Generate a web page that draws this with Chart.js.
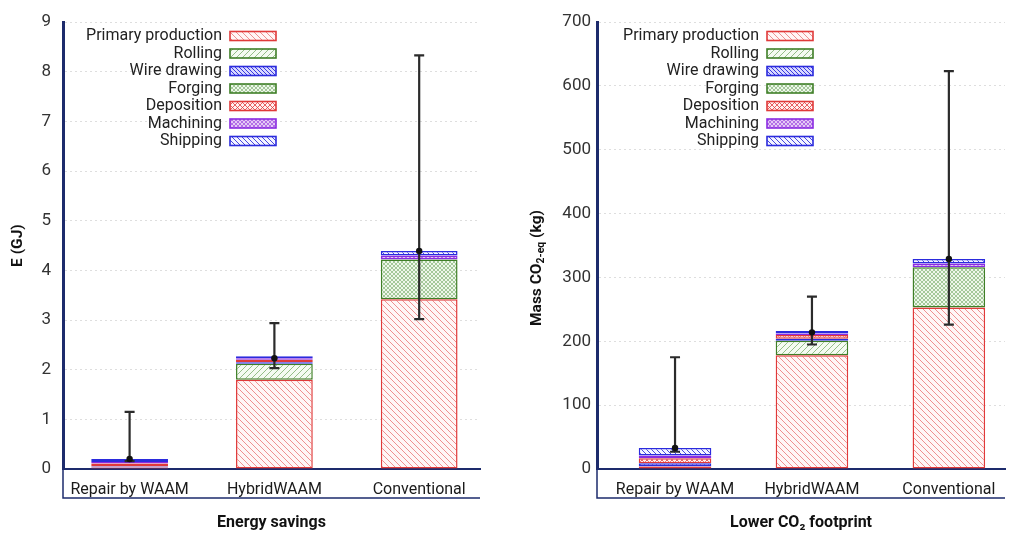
<!DOCTYPE html>
<html>
<head>
<meta charset="utf-8">
<script src="https://cdn.jsdelivr.net/npm/chart.js@4.4.1/dist/chart.umd.min.js"></script>
<style>
html, body { margin: 0; padding: 0; background: #fff; }
#wrap { position: relative; width: 1024px; height: 544px; }
canvas { position: absolute; top: 0; }
#left { left: 0; }
#right { left: 512px; }
</style>
</head>
<body>
<div id="wrap">
  <canvas id="left" width="512" height="544"></canvas>
  <canvas id="right" width="512" height="544"></canvas>
</div>
<script>
// categories and stages
const categories = ['Repair by WAAM', 'HybridWAAM', 'Conventional'];
const stages = ['Primary production', 'Rolling', 'Wire drawing', 'Forging', 'Deposition', 'Machining', 'Shipping'];

// energy (GJ), one array per stage
const energyPrimary    = [0.03, 1.80, 3.42];
const energyRolling    = [0,    0.32, 0];
const energyWire       = [0.02, 0.03, 0];
const energyForging    = [0,    0,    0.80];
const energyDeposition = [0.06, 0.05, 0];
const energyMachining  = [0.03, 0.03, 0.08];
const energyShipping   = [0.06, 0.04, 0.09];
const energyMean = [0.20, 2.23, 4.39];
const energyLow  = [0.16, 2.03, 3.02];
const energyHigh = [1.15, 2.94, 8.33];
const energyTicks = [0, 1, 2, 3, 4, 5, 6, 7, 8, 9];

// CO2 (kg), one array per stage
const co2Primary    = [4,  178, 253];
const co2Rolling    = [0,  23,  0];
const co2Wire       = [5,  3,   0];
const co2Forging    = [0,  0,   63];
const co2Deposition = [8,  6,   0];
const co2Machining  = [4,  2,   6];
const co2Shipping   = [12, 4,   7];
const co2Mean = [33, 214, 329];
const co2Low  = [27, 195, 226];
const co2High = [175, 270, 623];
const co2Ticks = [0, 100, 200, 300, 400, 500, 600, 700];

const navy = '#1d2b6c';
const FONT = 'Roboto, "Liberation Sans", sans-serif';

function hatch(kind, line, bg, size, lw) {
  const c = document.createElement('canvas');
  c.width = size; c.height = size;
  const g = c.getContext('2d');
  g.fillStyle = bg;
  g.fillRect(0, 0, size, size);
  g.strokeStyle = line;
  g.lineWidth = lw;
  g.beginPath();
  for (const k of [-size, 0, size]) {
    if (kind === 'back' || kind === 'cross') { g.moveTo(k, 0); g.lineTo(k + size, size); }
    if (kind === 'fwd' || kind === 'cross') { g.moveTo(k, size); g.lineTo(k + size, 0); }
  }
  g.stroke();
  return g.createPattern(c, 'repeat');
}

const stageStyle = [
  { fill: hatch('back',  'rgba(226,60,60,0.55)',  '#fff6f6', 6, 1),   border: '#e03a3a' },
  { fill: hatch('fwd',   'rgba(70,140,50,0.55)',  '#f5fbf2', 6, 1),   border: '#3f7f27' },
  { fill: hatch('back',  'rgba(40,40,220,0.9)',   '#d8d8ff', 4, 1),   border: '#2b2bdd' },
  { fill: hatch('cross', 'rgba(70,140,50,0.55)',  '#eef7ea', 4, 0.8), border: '#3f7f27' },
  { fill: hatch('cross', 'rgba(226,60,60,0.8)',   '#fff0f0', 5, 1),   border: '#e03a3a' },
  { fill: hatch('cross', 'rgba(150,60,220,0.8)',  '#e4c8f6', 4, 0.8), border: '#8a2be2' },
  { fill: hatch('back',  'rgba(40,40,220,0.85)',  '#f4f4ff', 5, 1),   border: '#2b2bdd' }
];

function buildDatasets(series) {
  return series.map((vals, k) => ({
    label: stages[k],
    data: vals,
    backgroundColor: stageStyle[k].fill,
    borderColor: stageStyle[k].border,
    borderWidth: 1.5,
    borderSkipped: false,
    barPercentage: 0.53,
    categoryPercentage: 1
  }));
}

function makeErrorBars(mean, low, high) {
  return {
    id: 'errorBars',
    afterDatasetsDraw(chart) {
      const { ctx, scales: { x, y } } = chart;
      ctx.save();
      ctx.strokeStyle = '#2b2b2b';
      ctx.fillStyle = '#111';
      ctx.lineWidth = 2.2;
      mean.forEach((m, i) => {
        const px = x.getPixelForValue(i);
        const yl = y.getPixelForValue(low[i]);
        const yh = y.getPixelForValue(high[i]);
        ctx.beginPath();
        ctx.moveTo(px, yl); ctx.lineTo(px, yh);
        ctx.moveTo(px - 5, yl); ctx.lineTo(px + 5, yl);
        ctx.moveTo(px - 5, yh); ctx.lineTo(px + 5, yh);
        ctx.stroke();
        ctx.beginPath();
        ctx.arc(px, y.getPixelForValue(m), 3.2, 0, Math.PI * 2);
        ctx.fill();
      });
      ctx.restore();
    }
  };
}

// legend: text right aligned, swatch to its right
function makeLegend(textRight, top) {
  return {
    id: 'sideLegend',
    afterDraw(chart) {
      const ctx = chart.ctx;
      ctx.save();
      ctx.font = '16px ' + FONT;
      ctx.textAlign = 'right';
      ctx.textBaseline = 'middle';
      chart.data.datasets.forEach((ds, k) => {
        const yy = top + k * 17.5;
        ctx.fillStyle = '#222';
        ctx.fillText(ds.label, textRight, yy);
        ctx.fillStyle = ds.backgroundColor;
        ctx.fillRect(textRight + 8, yy - 4.5, 46, 9);
        ctx.strokeStyle = ds.borderColor;
        ctx.lineWidth = 1.6;
        ctx.strokeRect(textRight + 8, yy - 4.5, 46, 9);
      });
      ctx.restore();
    }
  };
}

const labelBox = {
  id: 'labelBox',
  afterDraw(chart) {
    const { ctx, chartArea } = chart;
    ctx.save();
    ctx.strokeStyle = navy;
    ctx.lineWidth = 1.5;
    ctx.beginPath();
    ctx.moveTo(chartArea.left, chartArea.bottom);
    ctx.lineTo(chartArea.left, 498);
    ctx.lineTo(chartArea.right, 498);
    ctx.stroke();
    ctx.restore();
  }
};

// rotated y title with subscript
const co2AxisTitle = {
  id: 'co2AxisTitle',
  afterDraw(chart) {
    const ctx = chart.ctx;
    const parts = [
      { t: 'Mass CO', f: 'bold 15.5px ' + FONT, dy: 0 },
      { t: '2-eq', f: 'bold 10.5px ' + FONT, dy: 4 },
      { t: ' (kg)', f: 'bold 15.5px ' + FONT, dy: 0 }
    ];
    ctx.save();
    ctx.translate(25, 268);
    ctx.rotate(-Math.PI / 2);
    ctx.fillStyle = '#111';
    ctx.textBaseline = 'middle';
    let total = 0;
    parts.forEach(p => { ctx.font = p.f; total += ctx.measureText(p.t).width; });
    let xx = -total / 2;
    parts.forEach(p => {
      ctx.font = p.f;
      ctx.fillText(p.t, xx, p.dy);
      xx += ctx.measureText(p.t).width;
    });
    ctx.restore();
  }
};

function makeChart(id, series, ticks, yMax, yTitle, xTitle, axisWidth, padRight, catStart, catRange, plugins) {
  return new Chart(document.getElementById(id), {
    type: 'bar',
    data: { labels: categories, datasets: buildDatasets(series) },
    options: {
      responsive: false,
      animation: false,
      layout: { padding: { top: 22, right: padRight, bottom: 0, left: 0 } },
      plugins: { legend: { display: false }, tooltip: { enabled: false } },
      scales: {
        x: {
          stacked: true,
          grid: { display: false },
          border: { color: navy, width: 2 },
          ticks: { color: '#1a1a1a', font: { family: FONT, size: 16 }, padding: 3, maxRotation: 0 },
          title: { display: true, text: xTitle, color: '#111', font: { family: FONT, size: 16, weight: 'bold' }, padding: { top: 0, bottom: 11 } },
          afterFit: s => { s.height = 75; },
          // bars sit a little wider apart than an even split
          afterUpdate: s => { s._startValue = catStart; s._valueRange = catRange; }
        },
        y: {
          stacked: true,
          min: 0,
          max: yMax,
          afterBuildTicks: s => { s.ticks = ticks.map(v => ({ value: v })); },
          grid: { color: 'rgba(0,0,0,0.13)', drawTicks: false, lineWidth: 1 },
          border: { color: navy, width: 3, dash: [2, 3] },
          ticks: { color: '#333', font: { family: FONT, size: 17 }, padding: axisWidth === 63 ? 12 : 6 },
          title: { display: !!yTitle, text: yTitle, color: '#111', font: { family: FONT, size: 15.5, weight: 'bold' }, padding: { top: 9, bottom: 0 } },
          afterFit: s => { s.width = axisWidth; }
        }
      }
    },
    plugins: plugins
  });
}

makeChart('left',
  [energyPrimary, energyRolling, energyWire, energyForging, energyDeposition, energyMachining, energyShipping],
  energyTicks, 9, 'E (GJ)', 'Energy savings', 63, 32, -0.46, 2.88,
  [makeErrorBars(energyMean, energyLow, energyHigh), makeLegend(222, 36), labelBox]);

makeChart('right',
  [co2Primary, co2Rolling, co2Wire, co2Forging, co2Deposition, co2Machining, co2Shipping],
  co2Ticks, 700, '', 'Lower CO\u2082 footprint', 85, 19, -0.57, 2.98,
  [makeErrorBars(co2Mean, co2Low, co2High), makeLegend(247, 36), labelBox, co2AxisTitle]);
</script>
</body>
</html>
